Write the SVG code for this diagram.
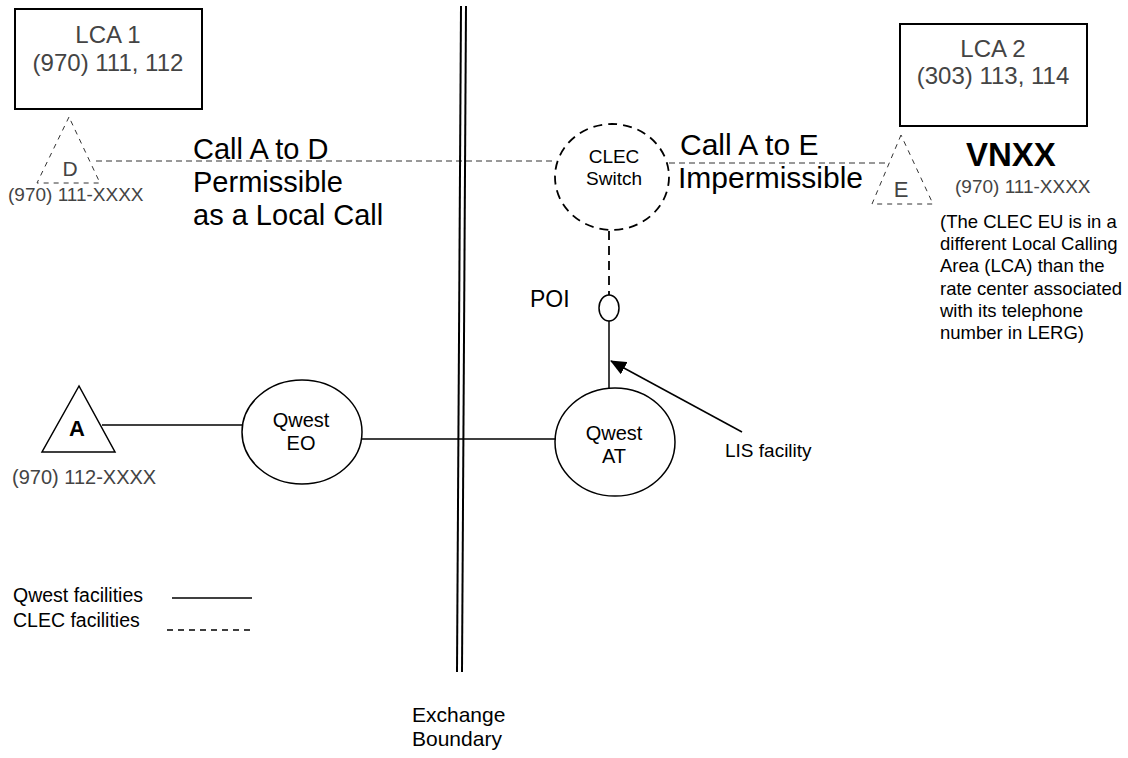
<svg xmlns="http://www.w3.org/2000/svg" width="1128" height="758" viewBox="0 0 1128 758">
<defs>
<style>
text{font-family:"Liberation Sans",Arial,sans-serif;fill:#000}
.g{fill:#444}
.big{font-size:29px}
.lca{font-size:24px;fill:#444}
.ph{font-size:19px;fill:#444}
.para{font-size:18.5px}
.node{font-size:20px}
.box{fill:none;stroke:#000;stroke-width:2}
.solid{fill:none;stroke:#000;stroke-width:1.5}
.dash{fill:none;stroke:#333;stroke-width:1;stroke-dasharray:6 4}
.tdash{fill:none;stroke:#333;stroke-width:1;stroke-dasharray:5 5}
.cdash{fill:none;stroke:#000;stroke-width:1.8;stroke-dasharray:9 6}
</style>
<marker id="ah" markerWidth="16" markerHeight="14" refX="15" refY="7" orient="auto" markerUnits="userSpaceOnUse" viewBox="0 0 16 14">
<path d="M0,0 L16,7 L0,14 z" fill="#000"/>
</marker>
</defs>
<rect width="1128" height="758" fill="#fff"/>

<g id="connectors">
<line class="dash" x1="96" y1="161" x2="555" y2="161"/>
<line class="dash" x1="669" y1="163" x2="885" y2="163"/>
<line class="cdash" x1="609" y1="231" x2="609" y2="295"/>
<line class="solid" x1="609" y1="321" x2="609" y2="388"/>
<line class="solid" x1="102" y1="425" x2="243" y2="425"/>
<line class="solid" x1="362" y1="439" x2="556" y2="439"/>
<line stroke="#000" stroke-width="1.5" x1="742" y1="432" x2="611" y2="361" marker-end="url(#ah)"/>
</g>

<g id="exchange-boundary">
<line x1="461" y1="6" x2="457" y2="672" stroke="#000" stroke-width="2"/>
<line x1="466" y1="6" x2="462" y2="672" stroke="#000" stroke-width="2"/>
<text x="412" y="722" style="font-size:21px">Exchange</text>
<text x="412" y="746" style="font-size:21px">Boundary</text>
</g>

<g id="lca1">
<rect class="box" x="15" y="9" width="187" height="100"/>
<text class="lca" x="108" y="43" text-anchor="middle">LCA 1</text>
<text class="lca" x="108" y="71" text-anchor="middle">(970) 111, 112</text>
</g>

<g id="lca2">
<rect class="box" x="900" y="24" width="187" height="102"/>
<text class="lca" x="993" y="57" text-anchor="middle">LCA 2</text>
<text class="lca" x="993" y="84" text-anchor="middle">(303) 113, 114</text>
</g>

<g id="node-d">
<polygon class="tdash" points="69,117 37,183 100,183"/>
<text class="g" x="70" y="176" text-anchor="middle" style="font-size:21px">D</text>
<text class="ph" x="8" y="201">(970) 111-XXXX</text>
</g>

<g id="call-a-to-d">
<text class="big" x="193" y="159">Call A to D</text>
<text class="big" x="193" y="192">Permissible</text>
<text class="big" x="193" y="225">as a Local Call</text>
</g>

<g id="clec-switch">
<ellipse class="cdash" cx="612" cy="177" rx="57" ry="53"/>
<text x="614" y="163" text-anchor="middle" style="font-size:19px">CLEC</text>
<text x="614" y="185" text-anchor="middle" style="font-size:19px">Switch</text>
</g>

<g id="call-a-to-e">
<text x="680" y="155" style="font-size:30px">Call A to E</text>
<text x="678" y="188" style="font-size:30px">Impermissible</text>
</g>

<g id="node-e">
<polygon class="tdash" points="901,135 872,204 933,204"/>
<text class="g" x="901" y="197" text-anchor="middle" style="font-size:22px">E</text>
</g>

<g id="vnxx">
<text x="966" y="166" style="font-size:33px;font-weight:bold">VNXX</text>
<text class="ph" x="955" y="193">(970) 111-XXXX</text>
<text class="para" x="940" y="228">(The CLEC EU is in a</text>
<text class="para" x="940" y="250">different Local Calling</text>
<text class="para" x="940" y="272">Area (LCA) than the</text>
<text class="para" x="940" y="295">rate center associated</text>
<text class="para" x="940" y="317">with its telephone</text>
<text class="para" x="940" y="339">number in LERG)</text>
</g>

<g id="poi">
<ellipse class="solid" cx="609" cy="308" rx="10" ry="13"/>
<text x="530" y="307" style="font-size:23px">POI</text>
</g>

<g id="node-a">
<polygon class="solid" points="79,386 42,452 115,452"/>
<text x="77" y="436" text-anchor="middle" style="font-size:22px;font-weight:bold">A</text>
<text class="ph" x="12" y="484" style="font-size:20px">(970) 112-XXXX</text>
</g>

<g id="qwest-eo">
<ellipse class="solid" cx="302" cy="432" rx="60" ry="52"/>
<text class="node" x="301" y="427" text-anchor="middle">Qwest</text>
<text class="node" x="301" y="450" text-anchor="middle">EO</text>
</g>

<g id="qwest-at">
<ellipse class="solid" cx="615" cy="442" rx="60" ry="54"/>
<text class="node" x="614" y="440" text-anchor="middle">Qwest</text>
<text class="node" x="614" y="463" text-anchor="middle">AT</text>
</g>

<g id="lis-label">
<text x="725" y="457" style="font-size:19px">LIS facility</text>
</g>

<g id="legend">
<text x="13" y="602" style="font-size:19.5px">Qwest facilities</text>
<text x="13" y="627" style="font-size:19.5px">CLEC facilities</text>
<line class="solid" x1="172" y1="598" x2="252" y2="598"/>
<line x1="167" y1="630" x2="253" y2="630" stroke="#000" stroke-width="1.5" stroke-dasharray="6 5"/>
</g>
</svg>
